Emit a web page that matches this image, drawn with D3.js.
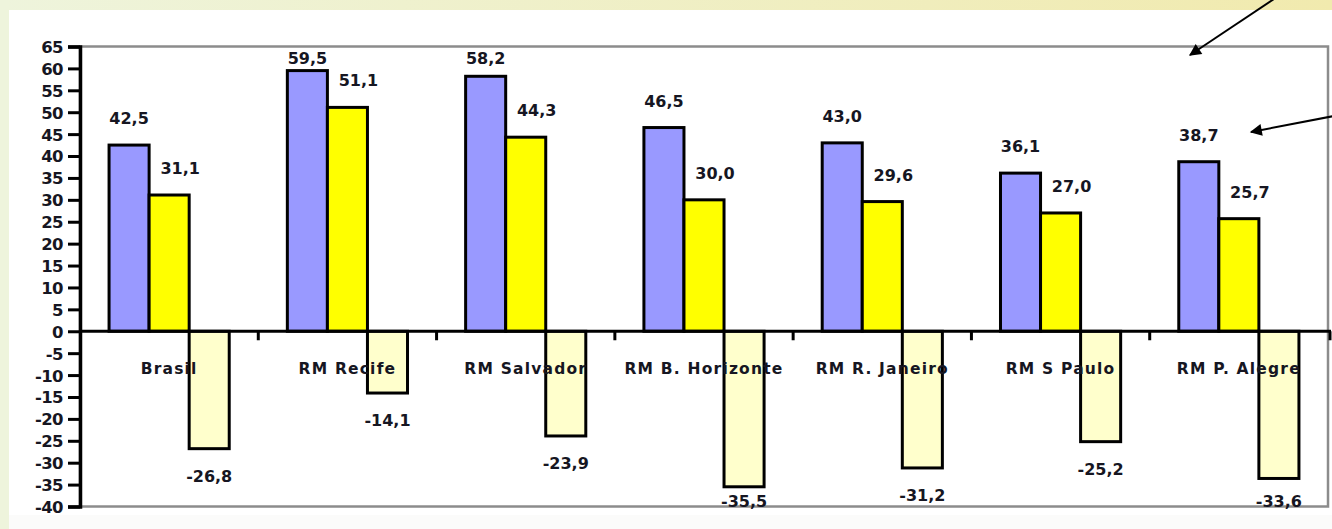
<!DOCTYPE html>
<html>
<head>
<meta charset="utf-8">
<script src="https://cdn.jsdelivr.net/npm/d3@7"></script>
<style>
  html, body { margin: 0; padding: 0; background: #ffffff; }
  svg { display: block; }
  text { font-family: "DejaVu Sans", sans-serif; font-weight: bold; fill: #161622; }
</style>
</head>
<body>
<svg id="chart" width="1332" height="529"></svg>
<script>
// ---- data ----
const categories = ["Brasil", "RM Recife", "RM Salvador", "RM B. Horizonte", "RM R. Janeiro", "RM S Paulo", "RM P. Alegre"];
const seriesNames = ["s1", "s2", "s3"];
const series1 = [42.5, 59.5, 58.2, 46.5, 43.0, 36.1, 38.7];
const series2 = [31.1, 51.1, 44.3, 30.0, 29.6, 27.0, 25.7];
const series3 = [-26.8, -14.1, -23.9, -35.5, -31.2, -25.2, -33.6];
const yTicks = [65, 60, 55, 50, 45, 40, 35, 30, 25, 20, 15, 10, 5, 0, -5, -10, -15, -20, -25, -30, -35, -40];

(function () {
const svg = d3.select("#chart");
const W = 1332, H = 529;

// ---- background (slide) ----
const defs = svg.append("defs");
const grad = defs.append("linearGradient").attr("id", "topband").attr("x1", "0").attr("x2", "1").attr("y1", "0").attr("y2", "0");
grad.append("stop").attr("offset", "0%").attr("stop-color", "#eef4dc");
grad.append("stop").attr("offset", "100%").attr("stop-color", "#f1eaae");
svg.append("rect").attr("x", 0).attr("y", 0).attr("width", W).attr("height", H).attr("fill", "#fbfbfa");
svg.append("rect").attr("x", 0).attr("y", 0).attr("width", W).attr("height", 10).attr("fill", "url(#topband)");
svg.append("rect").attr("x", 0).attr("y", 0).attr("width", 9).attr("height", H).attr("fill", "#eef4dc");
svg.append("rect").attr("x", 9).attr("y", 10).attr("width", W - 9).attr("height", 505).attr("fill", "#ffffff");

// ---- scales ----
const pLeft = 80, pRight = 1328, pTop = 46.5, pBottom = 506.5;
const y = d3.scaleLinear().domain([-40, 65]).range([pBottom, pTop]);
const x = d3.scaleBand().domain(categories).range([pLeft, pRight]).padding(0);
const bw = x.bandwidth();
const xs = d3.scaleBand().domain(seriesNames).range([bw * 0.163, bw * 0.837]).padding(0);

const colors = { s1: "#9999ff", s2: "#ffff00", s3: "#ffffcc" };

// plot frame (gray)
svg.append("rect").attr("x", pLeft).attr("y", pTop).attr("width", pRight - pLeft).attr("height", pBottom - pTop)
  .attr("fill", "#ffffff").attr("stroke", "#8c8c8c").attr("stroke-width", 2.5);

// ---- bars ----
const rows = categories.map((c, i) => ({ cat: c, vals: [
  { s: "s1", v: series1[i] }, { s: "s2", v: series2[i] }, { s: "s3", v: series3[i] }] }));

const g = svg.append("g");
rows.forEach(r => {
  g.selectAll(null).data(r.vals).enter().append("rect")
    .attr("x", d => x(r.cat) + xs(d.s))
    .attr("y", d => y(Math.max(0, d.v)))
    .attr("width", xs.bandwidth())
    .attr("height", d => Math.abs(y(d.v) - y(0)))
    .attr("fill", d => colors[d.s])
    .attr("stroke", "#000").attr("stroke-width", 3);
});

// ---- y axis ----
const yAxis = d3.axisLeft(y).tickValues(yTicks).tickSize(12).tickPadding(5).tickFormat(d => String(d));
const ya = svg.append("g").attr("transform", `translate(${pLeft},0)`).call(yAxis);
ya.select(".domain").attr("stroke", "#000").attr("stroke-width", 3.5);
ya.selectAll(".tick line").attr("stroke", "#000").attr("stroke-width", 3);
ya.selectAll(".tick text").attr("font-size", 16.5).attr("font-family", "DejaVu Sans").attr("font-weight", "bold")
  .attr("fill", "#161622").attr("dy", "0.36em").attr("letter-spacing", -0.6);

// zero line
svg.append("line").attr("x1", pLeft).attr("x2", pRight + 3).attr("y1", y(0)).attr("y2", y(0))
  .attr("stroke", "#000").attr("stroke-width", 3);

// x ticks at category boundaries
const bounds = categories.slice(1).map(c => x(c)).concat([pRight + 2]);
svg.selectAll(null).data(bounds).enter().append("line")
  .attr("x1", d => d).attr("x2", d => d).attr("y1", y(0)).attr("y2", y(0) + 9)
  .attr("stroke", "#000").attr("stroke-width", 3);

// category labels
svg.selectAll(null).data(categories).enter().append("text")
  .attr("x", d => x(d) + bw / 2).attr("y", y(0) + 43)
  .attr("text-anchor", "middle").attr("font-size", 15.5).attr("letter-spacing", 1.2)
  .text(d => d);

// ---- value labels ----
const fmt = v => v.toFixed(1).replace(".", ",");
const labelDx = { s1: 0, s2: 11, s3: 0 };
rows.forEach(r => {
  svg.selectAll(null).data(r.vals).enter().append("text")
    .attr("x", d => x(r.cat) + xs(d.s) + xs.bandwidth() / 2 + labelDx[d.s])
    .attr("y", d => d.v >= 0 ? Math.max(y(d.v) - 27, pTop + 11) + 6 : Math.min(y(d.v) + 27, pBottom - 6) + 6)
    .attr("text-anchor", "middle").attr("font-size", 16)
    .text(d => fmt(d.v));
});

// ---- arrows ----
defs.append("marker").attr("id", "ah").attr("viewBox", "0 0 10 10").attr("refX", 9).attr("refY", 5)
  .attr("markerWidth", 7.5).attr("markerHeight", 6).attr("markerUnits", "strokeWidth").attr("orient", "auto")
  .append("path").attr("d", "M0,0 L10,5 L0,10 z").attr("fill", "#000");
svg.append("line").attr("x1", 1274).attr("y1", -1).attr("x2", 1190).attr("y2", 55)
  .attr("stroke", "#000").attr("stroke-width", 2).attr("marker-end", "url(#ah)");
svg.append("line").attr("x1", 1334).attr("y1", 116).attr("x2", 1251).attr("y2", 132)
  .attr("stroke", "#000").attr("stroke-width", 2).attr("marker-end", "url(#ah)");
})();
</script>
</body>
</html>
